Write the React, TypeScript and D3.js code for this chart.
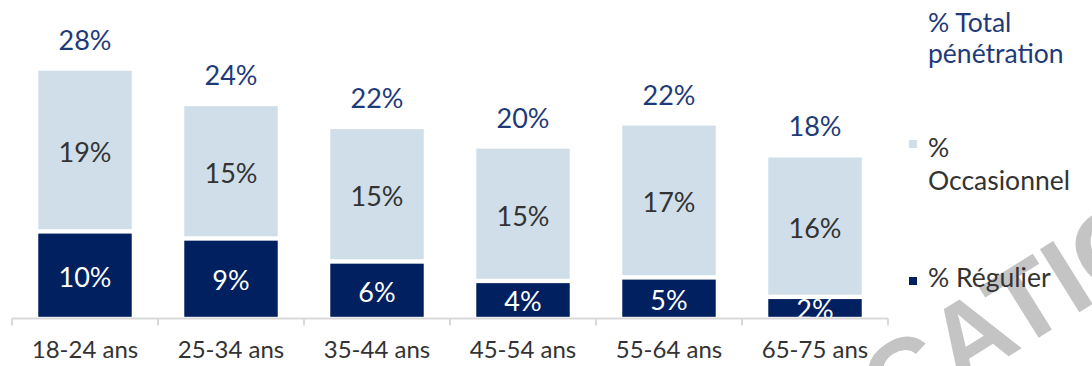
import React from "react";
import * as d3 from "d3";

const categories = ["18-24 ans", "25-34 ans", "35-44 ans", "45-54 ans", "55-64 ans", "65-75 ans"];
const regulier = [9.9, 9.1, 6.5, 4.3, 4.7, 2.5];
const occasionnel = [18.4, 15.2, 15.2, 15.2, 17.4, 16.0];
const regulierLabels = ["10%", "9%", "6%", "4%", "5%", "2%"];
const occasionnelLabels = ["19%", "15%", "15%", "15%", "17%", "16%"];
const totalLabels = ["28%", "24%", "22%", "20%", "22%", "18%"];
const legendItems = ["% Total pénétration", "% Occasionnel", "% Régulier"];

const W = 1092;
const H = 366;
const FONT = "Lato, 'DejaVu Sans', sans-serif";
const DARK = "#002060";
const LIGHT = "#CFDEE9";
const NAVY_TXT = "#1F3A78";
const GREY_TXT = "#333333";

export default function App() {
  const x = d3.scaleBand<string>().domain(categories).range([12, 888]).paddingInner(0.36).paddingOuter(0.18);
  const y = d3.scaleLinear().domain([0, 30]).range([319, 319 - 30 * 8.85]);
  const gap = 2.2;
  const step = x.step();
  const tickXs = d3.range(categories.length + 1).map((i) => 12 + i * step);

  return (
    <div style={{ position: "absolute", left: 0, top: 0 }}>
      <svg width={W} height={H} style={{ display: "block", fontFamily: FONT }}>
        <rect x={0} y={0} width={W} height={H} fill="#ffffff" />
        {/* watermark */}
        <g transform="translate(958,388) rotate(-32)" fill="#c4c4c4" fontFamily="'Liberation Sans', Arial, sans-serif" fontWeight="bold" fontSize={108}>
          <text x={0} y={0} textAnchor="end">PUBLIC</text>
          <text x={0} y={0} textAnchor="start">ATION</text>
        </g>
        {/* bars */}
        {categories.map((c, i) => {
          const bx = x(c)!;
          const bw = x.bandwidth();
          const r = regulier[i];
          const t = regulier[i] + occasionnel[i];
          const yR = y(r);
          const yT = y(t);
          const y0 = y(0);
          const cx = bx + bw / 2;
          return (
            <g key={c}>
              <rect x={bx} y={yR + gap} width={bw} height={y0 - gap - (yR + gap)} fill={DARK} />
              <rect x={bx} y={yT + gap} width={bw} height={yR - gap - (yT + gap)} fill={LIGHT} />
              <text x={cx} y={(yR + y0) / 2 + 1} textAnchor="middle" dominantBaseline="central" fontSize={27} fill="#ffffff">
                {regulierLabels[i]}
              </text>
              <text x={cx} y={(yT + yR) / 2 + 1.5} textAnchor="middle" dominantBaseline="central" fontSize={27} fill={GREY_TXT}>
                {occasionnelLabels[i]}
              </text>
              <text x={cx} y={yT + gap - 21} textAnchor="middle" fontSize={27} fill={NAVY_TXT}>
                {totalLabels[i]}
              </text>
            </g>
          );
        })}
        {/* axis */}
        <line x1={12} x2={888} y1={318.5} y2={318.5} stroke="#d9d9d9" strokeWidth={2} />
        {tickXs.map((tx, i) => (
          <line key={i} x1={tx} x2={tx} y1={318.5} y2={325.5} stroke="#d9d9d9" strokeWidth={2} />
        ))}
        {categories.map((c) => (
          <text key={c} x={x(c)! + x.bandwidth() / 2} y={358} textAnchor="middle" fontSize={24} fill={GREY_TXT}>
            {c}
          </text>
        ))}
        {/* legend */}
        <text x={928} y={32} fontSize={26.5} fill={NAVY_TXT}>
          {legendItems[0].split(" ").slice(0, 2).join(" ")}
        </text>
        <text x={928} y={63} fontSize={26.5} fill={NAVY_TXT}>
          {legendItems[0].split(" ").slice(2).join(" ")}
        </text>
        <rect x={909} y={140} width={8} height={8} fill={LIGHT} />
        <text x={928} y={157} fontSize={26.5} fill={GREY_TXT}>%</text>
        <text x={928} y={190} fontSize={26.5} fill={GREY_TXT}>
          {legendItems[1].split(" ")[1]}
        </text>
        <rect x={909} y={277} width={8} height={8} fill={DARK} />
        <text x={928} y={287} fontSize={26.5} fill={GREY_TXT}>
          {legendItems[2]}
        </text>
      </svg>
    </div>
  );
}
